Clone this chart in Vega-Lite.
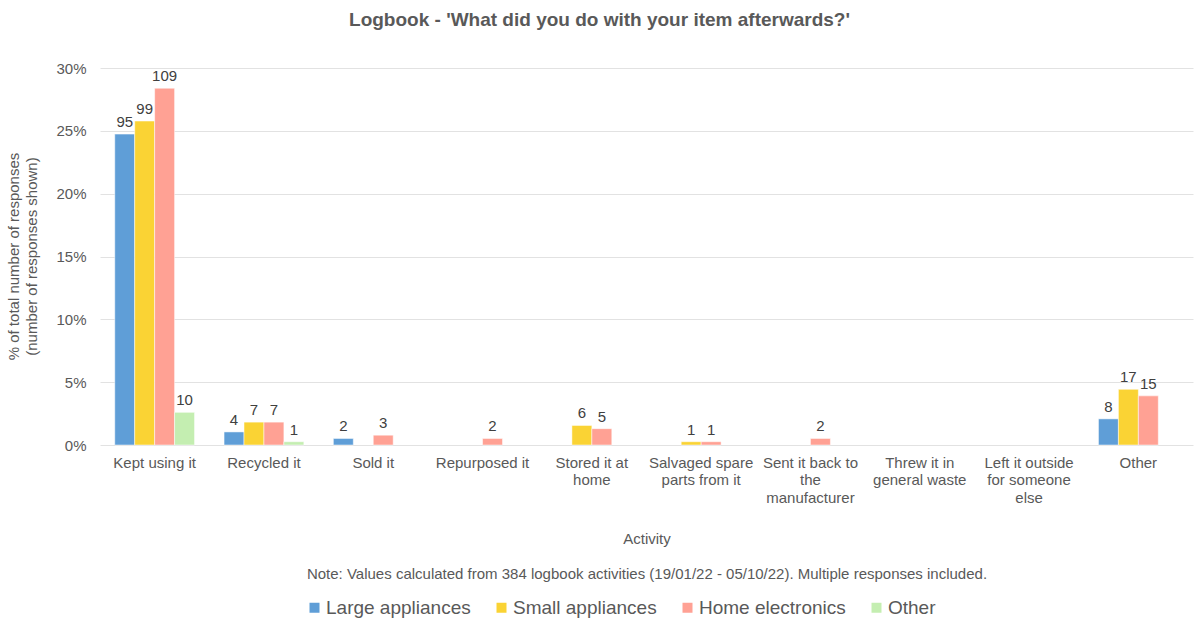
{
  "$schema": "https://vega.github.io/schema/vega-lite/v6.json",
  "width": 1093,
  "height": 377,
  "autosize": {"type": "none"},
  "padding": {"left": 100, "top": 68, "right": 4, "bottom": 175},
  "background": "white",
  "config": {
    "font": "Liberation Sans",
    "view": {"stroke": null}
  },
  "title": {
    "text": "Logbook - 'What did you do with your item afterwards?'",
    "fontSize": 19,
    "fontWeight": "bold",
    "color": "#595959",
    "anchor": "middle",
    "dx": -47,
    "offset": 31
  },
  "data": {
    "values": [
      {"activity": "Kept using it", "type": "Large appliances", "count": 95, "pct": 0.2474},
      {"activity": "Kept using it", "type": "Small appliances", "count": 99, "pct": 0.2578},
      {"activity": "Kept using it", "type": "Home electronics", "count": 109, "pct": 0.2839},
      {"activity": "Kept using it", "type": "Other", "count": 10, "pct": 0.026},
      {"activity": "Recycled it", "type": "Large appliances", "count": 4, "pct": 0.0104},
      {"activity": "Recycled it", "type": "Small appliances", "count": 7, "pct": 0.0182},
      {"activity": "Recycled it", "type": "Home electronics", "count": 7, "pct": 0.0182},
      {"activity": "Recycled it", "type": "Other", "count": 1, "pct": 0.0026},
      {"activity": "Sold it", "type": "Large appliances", "count": 2, "pct": 0.0052},
      {"activity": "Sold it", "type": "Home electronics", "count": 3, "pct": 0.0078},
      {"activity": "Repurposed it", "type": "Home electronics", "count": 2, "pct": 0.0052},
      {"activity": "Stored it at home", "type": "Small appliances", "count": 6, "pct": 0.0156},
      {"activity": "Stored it at home", "type": "Home electronics", "count": 5, "pct": 0.013},
      {"activity": "Salvaged spare parts from it", "type": "Small appliances", "count": 1, "pct": 0.0026},
      {"activity": "Salvaged spare parts from it", "type": "Home electronics", "count": 1, "pct": 0.0026},
      {"activity": "Sent it back to the manufacturer", "type": "Home electronics", "count": 2, "pct": 0.0052},
      {"activity": "Other", "type": "Large appliances", "count": 8, "pct": 0.0208},
      {"activity": "Other", "type": "Small appliances", "count": 17, "pct": 0.0443},
      {"activity": "Other", "type": "Home electronics", "count": 15, "pct": 0.0391}
    ]
  },
  "encoding": {
    "x": {
      "field": "activity",
      "type": "nominal",
      "scale": {
        "domain": ["Kept using it", "Recycled it", "Sold it", "Repurposed it", "Stored it at home", "Salvaged spare parts from it", "Sent it back to the manufacturer", "Threw it in general waste", "Left it outside for someone else", "Other"],
        "paddingInner": 0.27,
        "paddingOuter": 0.135
      },
      "axis": {
        "title": ["Activity", "Note: Values calculated from 384 logbook activities (19/01/22 - 05/10/22). Multiple responses included."],
        "titleFontSize": 15,
        "titleFontWeight": "normal",
        "titleColor": "#595959",
        "titleLineHeight": 35,
        "titleBaseline": "top",
        "titleY": 86,
        "labelAngle": 0,
        "labelFontSize": 15,
        "labelColor": "#595959",
        "labelPadding": 10,
        "labelBaseline": "top",
        "labelLineHeight": 17.5,
        "labelLimit": 200,
        "ticks": false,
        "domain": false,
        "grid": false,
        "labelExpr": "datum.label == 'Stored it at home' ? ['Stored it at', 'home'] : datum.label == 'Salvaged spare parts from it' ? ['Salvaged spare', 'parts from it'] : datum.label == 'Sent it back to the manufacturer' ? ['Sent it back to', 'the', 'manufacturer'] : datum.label == 'Threw it in general waste' ? ['Threw it in', 'general waste'] : datum.label == 'Left it outside for someone else' ? ['Left it outside', 'for someone', 'else'] : datum.label"
      }
    },
    "xOffset": {
      "field": "type",
      "type": "nominal",
      "scale": {"domain": ["Large appliances", "Small appliances", "Home electronics", "Other"], "paddingInner": 0, "paddingOuter": 0}
    },
    "y": {
      "field": "pct",
      "type": "quantitative",
      "scale": {"domain": [0, 0.3], "nice": false},
      "axis": {
        "title": ["% of total number of responses", "(number of responses shown)"],
        "titleFontSize": 15,
        "titleFontWeight": "normal",
        "titleColor": "#595959",
        "titleAngle": -90,
        "titleX": -94,
        "titleY": 188,
        "titleAlign": "center",
        "titleBaseline": "top",
        "titleLineHeight": 18,
        "values": [0, 0.05, 0.1, 0.15, 0.2, 0.25, 0.3],
        "format": ".0%",
        "labelFontSize": 15,
        "labelColor": "#595959",
        "labelPadding": 14,
        "ticks": false,
        "domain": false,
        "gridColor": "#e2e2e2",
        "gridWidth": 1
      }
    }
  },
  "layer": [
    {
      "mark": {"type": "bar", "stroke": "white", "strokeWidth": 0.5},
      "encoding": {
        "color": {
          "field": "type",
          "type": "nominal",
          "scale": {
            "domain": ["Large appliances", "Small appliances", "Home electronics", "Other"],
            "range": ["#5f9ed7", "#fad334", "#ffa194", "#c4eeb1"]
          },
          "legend": {
            "title": null,
            "orient": "none",
            "direction": "horizontal",
            "legendX": 205,
            "legendY": 530,
            "symbolType": "square",
            "symbolSize": 100,
            "symbolStrokeWidth": 0,
            "labelFontSize": 19,
            "labelColor": "#595959",
            "labelOffset": 2,
            "columnPadding": 21
          }
        }
      }
    },
    {
      "mark": {"type": "text", "baseline": "bottom", "dy": -4, "fontSize": 15, "color": "#404040"},
      "encoding": {
        "text": {"field": "count", "type": "quantitative"}
      }
    }
  ]
}
